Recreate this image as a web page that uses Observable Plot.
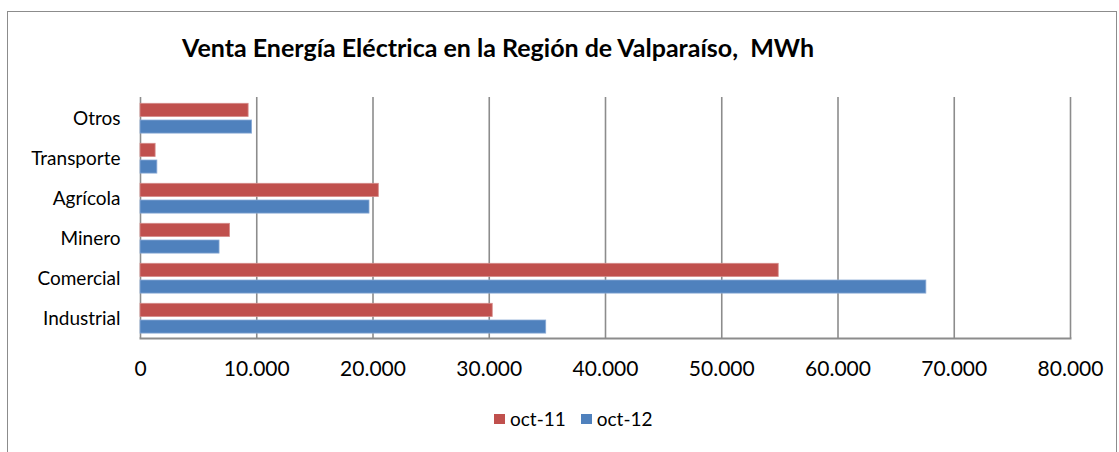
<!DOCTYPE html>
<html>
<head>
<meta charset="utf-8">
<script src="https://cdn.jsdelivr.net/npm/d3@7"></script>
<script src="https://cdn.jsdelivr.net/npm/@observablehq/plot@0.6"></script>
<style>
  body { margin: 0; background: #fff; font-family: Lato, "Open Sans", sans-serif; }
  #frame { position: absolute; left: 7px; top: 11px; width: 1110px; height: 470px; border: 1.5px solid #8c8c8c; box-sizing: border-box; }
  #title { position: absolute; top: 32px; left: 0; width: 996px; text-align: center; font: bold 25px Lato, sans-serif; color: #000; white-space: pre; }
  #chart { position: absolute; top: 80px; left: 0; }
  #legend { position: absolute; top: 407px; left: 494px; display: flex; align-items: center; font: 19px Lato, sans-serif; color: #000; }
  .sw { width: 11px; height: 10px; display: inline-block; margin-right: 5px; }
  .item { display: flex; align-items: center; margin-right: 15px; }
</style>
</head>
<body>
<div id="frame"></div>
<div id="title">Venta Energía Eléctrica en la Región de Valparaíso,  MWh</div>
<div id="chart"></div>
<div id="legend"></div>
<script>
const categorias = ["Otros", "Transporte", "Agrícola", "Minero", "Comercial", "Industrial"];
const series = ["oct-11", "oct-12"];
const oct11 = [9300, 1300, 20500, 7700, 54900, 30300];
const oct12 = [9600, 1450, 19700, 6800, 67600, 34900];
const colores = ["#C0504D", "#4F81BD"];
const ticksX = [0, 10000, 20000, 30000, 40000, 50000, 60000, 70000, 80000];

const fmt = d => d3.format(",")(d).replace(/,/g, ".");
const datos11 = categorias.map((c, i) => ({cat: c, serie: series[0], v: oct11[i]}));
const datos12 = categorias.map((c, i) => ({cat: c, serie: series[1], v: oct12[i]}));

const chart = Plot.plot({
  width: 1119,
  height: 300,
  marginLeft: 140,
  marginRight: 49,
  marginTop: 17,
  marginBottom: 42,
  style: {fontFamily: "Lato, sans-serif", background: "transparent"},
  x: {domain: [0, 80000], ticks: ticksX, tickFormat: fmt, label: null},
  y: {domain: categorias, padding: 0, label: null},
  color: {domain: series, range: colores},
  marks: [
    Plot.ruleX(ticksX, {stroke: "#8c8c8c", strokeWidth: 1.6}),
    Plot.frame({anchor: "bottom", stroke: "#8c8c8c", strokeWidth: 2}),
    Plot.barX(datos11, {x: "v", y: "cat", fill: "serie", insetTop: 5.3, insetBottom: 21.5, stroke: "#d58a88", strokeWidth: 0.8}),
    Plot.barX(datos12, {x: "v", y: "cat", fill: "serie", insetTop: 22, insetBottom: 4.9, stroke: "#8aaad6", strokeWidth: 0.8}),
    Plot.axisX({ticks: ticksX, tickFormat: fmt, tickSize: 0, tickPadding: 23, fontSize: 21, label: null}),
    Plot.axisY({tickSize: 0, tickPadding: 20, fontSize: 19, label: null})
  ]
});
document.getElementById("chart").appendChild(chart);

const leg = document.getElementById("legend");
series.forEach((s, i) => {
  const it = document.createElement("div");
  it.className = "item";
  const sw = document.createElement("span");
  sw.className = "sw";
  sw.style.background = colores[i];
  it.appendChild(sw);
  it.appendChild(document.createTextNode(s));
  leg.appendChild(it);
});
</script>
</body>
</html>
